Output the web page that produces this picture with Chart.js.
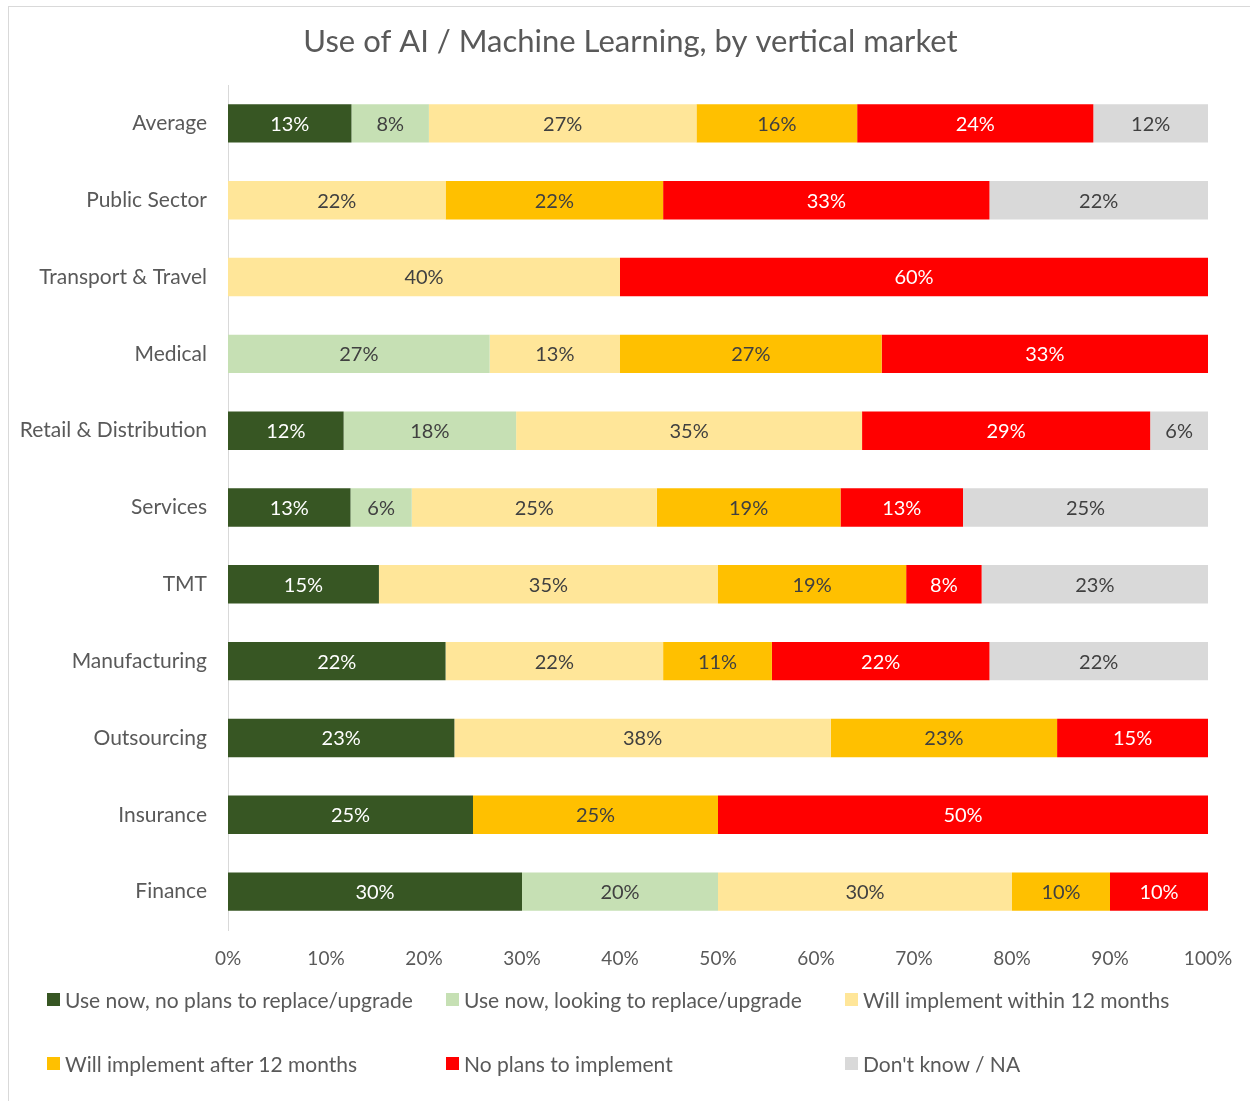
<!DOCTYPE html>
<html lang="en">
<head>
    <meta charset="UTF-8">
    <title>Use of AI / Machine Learning, by vertical market</title>
    <script src="https://cdn.jsdelivr.net/npm/chart.js"></script>
    <style>
        html, body { margin: 0; padding: 0; background: #fff; }
        body { width: 1250px; height: 1101px; position: relative; overflow: hidden; font-family: Lato, "Noto Sans", sans-serif; }
        .frame {
            position: absolute; left: 8px; top: 6px; width: 1250px; height: 1101px;
            border-left: 1px solid #d9d9d9; border-top: 1px solid #d9d9d9;
        }
        .chart-box { position: absolute; left: 9px; top: 7px; width: 1241px; height: 1094px; }
        .legend {
            position: absolute; left: 47px; top: 984px; width: 1200px;
            display: grid; grid-template-columns: 399px 399px 399px; grid-auto-rows: 64px;
            color: #595959; font-size: 21px;
        }
        .legend div { display: flex; align-items: center; height: 30px; white-space: nowrap; }
        .legend span.sw { display: inline-block; width: 13px; height: 13px; margin-right: 5px; }
    </style>
</head>
<body>
    <div class="frame"></div>
    <div class="chart-box">
        <canvas id="aiChart" width="1241" height="1094"></canvas>
    </div>
    <div class="legend" id="legend"></div>

    <script>
        const chartTitle = "Use of AI / Machine Learning, by vertical market";

        // categories, top to bottom
        const markets = ["Average", "Public Sector", "Transport & Travel", "Medical", "Retail & Distribution",
            "Services", "TMT", "Manufacturing", "Outsourcing", "Insurance", "Finance"];

        const seriesNames = ["Use now, no plans to replace/upgrade", "Use now, looking to replace/upgrade",
            "Will implement within 12 months", "Will implement after 12 months", "No plans to implement", "Don't know / NA"];
        const seriesColors = ["#375623", "#C6E0B4", "#FFE699", "#FFC000", "#FF0000", "#D9D9D9"];
        const labelColors = ["#ffffff", "#404040", "#404040", "#404040", "#ffffff", "#404040"];

        // percentages per market (same order as markets)
        const useNoUpgrade   = [12.6, 0,    0,  0,    11.8, 12.5,  15.4, 22.2, 23.1, 25, 30];
        const useUpgrade     = [7.9,  0,    0,  26.7, 17.6, 6.25,  0,    0,    0,    0,  20];
        const within12       = [27.3, 22.2, 40, 13.3, 35.3, 25,    34.6, 22.2, 38.4, 0,  30];
        const after12        = [16.4, 22.2, 0,  26.7, 0,    18.75, 19.2, 11.1, 23.1, 25, 10];
        const noPlans        = [24.1, 33.3, 60, 33.3, 29.4, 12.5,  7.7,  22.2, 15.4, 50, 10];
        const dontKnow       = [11.7, 22.3, 0,  0,    5.9,  25,    23.1, 22.3, 0,    0,  0];

        const xTicks = [0, 10, 20, 30, 40, 50, 60, 70, 80, 90, 100];

        const allSeries = [useNoUpgrade, useUpgrade, within12, after12, noPlans, dontKnow];

        const datasets = allSeries.map((vals, i) => ({
            label: seriesNames[i],
            data: vals,
            backgroundColor: seriesColors[i],
            borderWidth: 0,
            barPercentage: 0.5,
            categoryPercentage: 1.0
        }));

        // draw the value labels in the middle of each segment
        const segmentLabels = {
            id: 'segmentLabels',
            afterDatasetsDraw(chart) {
                const ctx = chart.ctx;
                ctx.save();
                ctx.font = '20px Lato, "Noto Sans", sans-serif';
                ctx.textAlign = 'center';
                ctx.textBaseline = 'middle';
                chart.data.datasets.forEach((ds, i) => {
                    const meta = chart.getDatasetMeta(i);
                    meta.data.forEach((bar, j) => {
                        const v = ds.data[j];
                        if (!v) return;
                        ctx.fillStyle = labelColors[i];
                        ctx.fillText(Math.round(v) + '%', (bar.x + bar.base) / 2, bar.y + 1);
                    });
                });
                ctx.restore();
            }
        };

        // title centred on the whole chart frame, not on the padded area
        const frameTitle = {
            id: 'frameTitle',
            afterDraw(chart) {
                const ctx = chart.ctx;
                ctx.save();
                ctx.font = '31px Lato, "Noto Sans", sans-serif';
                ctx.fillStyle = '#595959';
                ctx.textAlign = 'center';
                ctx.textBaseline = 'middle';
                ctx.fillText(chartTitle, chart.width / 2 + 1, 35);
                ctx.restore();
            }
        };

        const ctx = document.getElementById('aiChart').getContext('2d');
        const aiChart = new Chart(ctx, {
            type: 'bar',
            data: { labels: markets, datasets: datasets },
            plugins: [segmentLabels, frameTitle],
            options: {
                indexAxis: 'y',
                responsive: false,
                animation: false,
                layout: { padding: { left: 0, right: 42, top: 78, bottom: 131 } },
                plugins: {
                    legend: { display: false },
                    tooltip: { enabled: false },
                    title: { display: false }
                },
                scales: {
                    x: {
                        stacked: true,
                        min: 0,
                        max: 100,
                        afterBuildTicks: (scale) => { scale.ticks = xTicks.map(v => ({ value: v })); },
                        afterFit: (scale) => { scale.height = 40; },
                        grid: { display: false, drawTicks: false },
                        border: { display: false },
                        ticks: {
                            padding: 17,
                            color: "#595959",
                            font: { family: 'Lato, "Noto Sans", sans-serif', size: 19 },
                            callback: (v) => v + '%'
                        }
                    },
                    y: {
                        stacked: true,
                        afterFit: (scale) => { scale.width = 219; },
                        grid: { display: false, drawTicks: false },
                        border: { display: true, color: "#d9d9d9", width: 1 },
                        ticks: {
                            padding: 21,
                            color: "#595959",
                            font: { family: 'Lato, "Noto Sans", sans-serif', size: 21 }
                        }
                    }
                }
            }
        });

        // legend laid out in three columns like the original
        const legendBox = document.getElementById('legend');
        seriesNames.forEach((name, i) => {
            const item = document.createElement('div');
            item.innerHTML = `<span class="sw" style="background:${seriesColors[i]}"></span>${name}`;
            legendBox.appendChild(item);
        });
    </script>
</body>
</html>
